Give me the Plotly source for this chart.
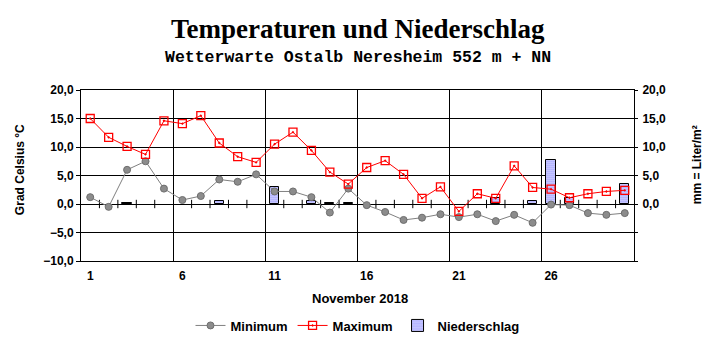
import plotly.graph_objects as go

days = list(range(1, 31))
t_min = [1.2, -0.5, 6.0, 7.5, 2.7, 0.7, 1.4, 4.3, 3.9, 5.2,
         2.2, 2.2, 1.2, -1.5, 2.7, -0.2, -1.4, -2.8, -2.4, -1.8,
         -2.3, -1.8, -3.0, -1.9, -3.3, -0.1, -0.2, -1.6, -1.9, -1.6]
t_max = [15.0, 11.7, 10.1, 8.7, 14.6, 14.1, 15.5, 10.7, 8.3, 7.3,
         10.5, 12.6, 9.4, 5.6, 3.5, 6.4, 7.6, 5.2, 1.0, 3.0,
         -1.3, 1.8, 1.0, 6.7, 2.9, 2.6, 1.1, 1.8, 2.2, 2.4]
precip = [0, 0, 0.1, 0, 0, 0, 0, 0.5, 0, 0,
          3.0, 0, 0.6, 0.1, 0.1, 0, 0, 0, 0, 0,
          0, 0, 1.0, 0, 0.6, 7.8, 1.0, 0, 0, 3.5]
x_labels = [1, 6, 11, 16, 21, 26]
temp_ticks = [-10, -5, 0, 5, 10, 15, 20]
rain_ticks = [0, 5, 10, 15, 20]

W, H = 715, 352
ML, MR, MT, MB = 81, 81, 90, 87
PW, PH = W - ML - MR, H - MT - MB

def px_x(px):
    return (px - ML) / PW

def px_y(py):
    return (H - MB - py) / PH

SANS = "Liberation Sans"
fig = go.Figure()

# small day ticks on the zero line (between days, except where grid lines are)
half = [d + 0.5 for d in days[:-1] if d % 5 != 0]
fig.add_trace(go.Scatter(
    x=half, y=[0] * len(half), mode="markers", yaxis="y", showlegend=False,
    hoverinfo="skip",
    marker=dict(symbol="line-ns", size=6, line=dict(color="black", width=1)),
))

fig.add_trace(go.Bar(
    x=days, y=[v if v > 0 else None for v in precip], name="Niederschlag",
    yaxis="y2", width=0.5,
    marker=dict(color="white", line=dict(color="black", width=1),
                pattern=dict(shape=".", fgcolor="#0000ff", bgcolor="white",
                             size=2, solidity=0.6)),
))

fig.add_trace(go.Scatter(
    x=days, y=t_min, name="Minimum", mode="lines+markers", yaxis="y3",
    line=dict(color="#808080", width=1),
    marker=dict(symbol="circle", size=7, color="#8c8c8c",
                line=dict(color="#6e6e6e", width=1)),
))
fig.add_trace(go.Scatter(
    x=days, y=t_max, name="Maximum", mode="lines+markers", yaxis="y3",
    line=dict(color="#ff0000", width=1),
    marker=dict(symbol="square-open-dot", size=8, color="#ff0000",
                line=dict(color="#ff0000", width=1.3)),
))

fig.update_layout(
    width=W, height=H,
    margin=dict(l=ML, r=MR, t=MT, b=MB),
    paper_bgcolor="white", plot_bgcolor="white",
    separators=",.",
    font=dict(family=SANS, size=12, color="black", weight="bold"),
    bargap=0,
    xaxis=dict(
        range=[0.5, 30.5], tickvals=x_labels, ticktext=[str(v) for v in x_labels],
        showgrid=False, zeroline=False, ticks="", showline=True, mirror=True,
        linecolor="black", linewidth=1, ticklabelstandoff=4,
        tickfont=dict(family=SANS, size=12, weight="bold"),
        minor=dict(tick0=0.5, dtick=5, showgrid=True, gridcolor="black",
                   gridwidth=1, ticks=""),
    ),
    yaxis=dict(
        range=[-10, 20], tickvals=temp_ticks, tickformat=".1f",
        showgrid=True, gridcolor="black", gridwidth=1,
        zeroline=True, zerolinecolor="black", zerolinewidth=1,
        showline=True, linecolor="black", linewidth=1,
        ticks="outside", ticklen=4, tickcolor="black",
        tickfont=dict(family=SANS, size=12, weight="bold"),
    ),
    yaxis2=dict(
        range=[-10, 20], overlaying="y", side="right",
        tickvals=[-10, -5] + rain_ticks,
        ticktext=["", ""] + [f"{v:.1f}".replace(".", ",") for v in rain_ticks],
        showgrid=False, zeroline=False, showline=True, linecolor="black",
        ticks="outside", ticklen=3, tickcolor="black", ticklabelstandoff=2,
        tickfont=dict(family=SANS, size=12, weight="bold"),
    ),
    yaxis3=dict(range=[-10, 20], overlaying="y", visible=False),
    legend=dict(orientation="h", x=0.5, xanchor="center", y=px_y(331),
                yanchor="middle", font=dict(family=SANS, size=13, weight="bold"),
                itemwidth=30, traceorder="normal", bgcolor="rgba(0,0,0,0)"),
    showlegend=True,
)

fig.add_annotation(text="Temperaturen und Niederschlag", xref="paper", yref="paper",
                   x=px_x(358), y=px_y(28), showarrow=False, xanchor="center",
                   yanchor="middle",
                   font=dict(family="Liberation Serif", size=27, weight="bold"))
fig.add_annotation(text="Wetterwarte Ostalb Neresheim 552 m + NN", xref="paper",
                   yref="paper", x=px_x(358), y=px_y(57), showarrow=False,
                   xanchor="center", yanchor="middle",
                   font=dict(family="Liberation Mono", size=16.5, weight="bold"))
fig.add_annotation(text="November 2018", xref="paper", yref="paper",
                   x=px_x(360), y=px_y(303), showarrow=False, xanchor="center",
                   yanchor="middle", font=dict(family=SANS, size=13, weight="bold"))
fig.add_annotation(text="Grad Celsius °C", xref="paper", yref="paper",
                   x=px_x(20), y=px_y(172), showarrow=False, textangle=-90,
                   xanchor="center", yanchor="middle",
                   font=dict(family=SANS, size=12, weight="bold"))
fig.add_annotation(text="mm = Liter/m²", xref="paper", yref="paper",
                   x=px_x(697), y=px_y(167), showarrow=False, textangle=-90,
                   xanchor="center", yanchor="middle",
                   font=dict(family=SANS, size=12, weight="bold"))

# legend order: Minimum, Maximum, Niederschlag
fig.data[1].legendrank = 3
fig.data[2].legendrank = 1
fig.data[3].legendrank = 2

fig.write_html("out.html")
